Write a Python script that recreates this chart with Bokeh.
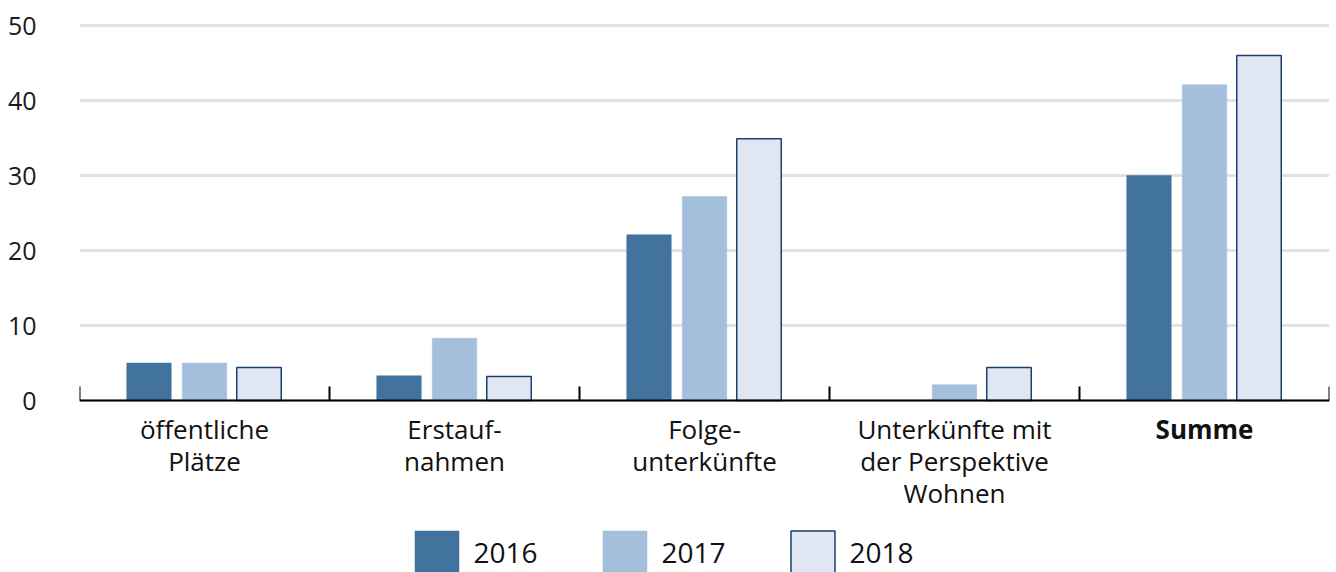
from bokeh.plotting import figure
from bokeh.models import FixedTicker, Label, Legend, LegendItem, Range1d
from bokeh.embed import file_html
from bokeh.resources import INLINE

categories = ["öffentliche\nPlätze", "Erstauf-\nnahmen", "Folge-\nunterkünfte",
              "Unterkünfte mit\nder Perspektive\nWohnen", "Summe"]
years = ["2016", "2017", "2018"]
v2016 = [5.0, 3.3, 22.1, 0.0, 30.0]
v2017 = [5.0, 8.3, 27.2, 2.1, 42.1]
v2018 = [4.4, 3.2, 34.9, 4.4, 46.0]
y_ticks = [0, 10, 20, 30, 40, 50]

FONT = "Open Sans"
fills = ["#42739f", "#a3bfdc", "#e0e7f2"]
lines = [None, None, "#1d3f70"]
offsets = [-0.222, 0.0, 0.218]
bar_w = 0.178

# frame spans page y 17..572 ; 0 at y=400, 7.5 px per unit
p = figure(width=1336, height=572, output_backend="svg", toolbar_location=None,
           x_range=Range1d(0, len(categories)), y_range=Range1d(-22.93, 51.07),
           min_border_left=79, min_border_right=7, min_border_top=17, min_border_bottom=0)
p.outline_line_color = None
p.background_fill_color = "white"
p.border_fill_color = "white"

centers = [i + 0.5 for i in range(len(categories))]
renderers = []
for k, vals in enumerate([v2016, v2017, v2018]):
    xs = [c + offsets[k] for c in centers]
    r = p.vbar(x=xs, top=vals, bottom=0, width=bar_w, fill_color=fills[k],
               line_color=lines[k] if lines[k] else fills[k],
               line_width=1.5 if lines[k] else 0.5)
    renderers.append(r)

# grid
p.xgrid.grid_line_color = None
p.ygrid.grid_line_color = "#e2e2e2"
p.ygrid.grid_line_width = 3
p.ygrid.ticker = FixedTicker(ticks=y_ticks)

# y axis
p.yaxis.ticker = FixedTicker(ticks=y_ticks)
p.yaxis.axis_line_color = None
p.yaxis.major_tick_line_color = None
p.yaxis.minor_tick_line_color = None
p.yaxis.major_label_text_font = FONT
p.yaxis.major_label_text_font_size = "25px"
p.yaxis.major_label_text_color = "#1a1a1a"
p.yaxis.major_label_standoff = 37

# x axis at y=0 inside the frame: ticks at category boundaries, no labels
p.xaxis.fixed_location = 0
p.xaxis.ticker = FixedTicker(ticks=list(range(len(categories) + 1)))
p.xaxis.major_label_overrides = {i: "" for i in range(len(categories) + 1)}
p.xaxis.axis_line_color = "black"
p.xaxis.axis_line_width = 2
p.xaxis.major_tick_line_color = "black"
p.xaxis.major_tick_line_width = 2
p.xaxis.major_tick_in = 14
p.xaxis.major_tick_out = 0
p.xaxis.minor_tick_line_color = None

# category labels
for i, cat in enumerate(categories):
    lab = Label(x=centers[i], y=-1.45, text=cat, text_align="center", text_baseline="top",
                text_font=FONT, text_font_size="26px", text_color="#111111",
                text_line_height=0.88,
                text_font_style="bold" if cat == "Summe" else "normal")
    p.add_layout(lab)

legend = Legend(items=[LegendItem(label=years[k], renderers=[renderers[k]]) for k in range(3)],
                orientation="horizontal", location=(329.5, -7.5),
                glyph_width=55, glyph_height=55, label_standoff=10, spacing=59,
                padding=0, margin=0, border_line_color=None, background_fill_alpha=0,
                label_text_font=FONT, label_text_font_size="28px", label_text_color="#111111")
p.add_layout(legend, "center")

open("out.html", "w").write(file_html(p, INLINE))
